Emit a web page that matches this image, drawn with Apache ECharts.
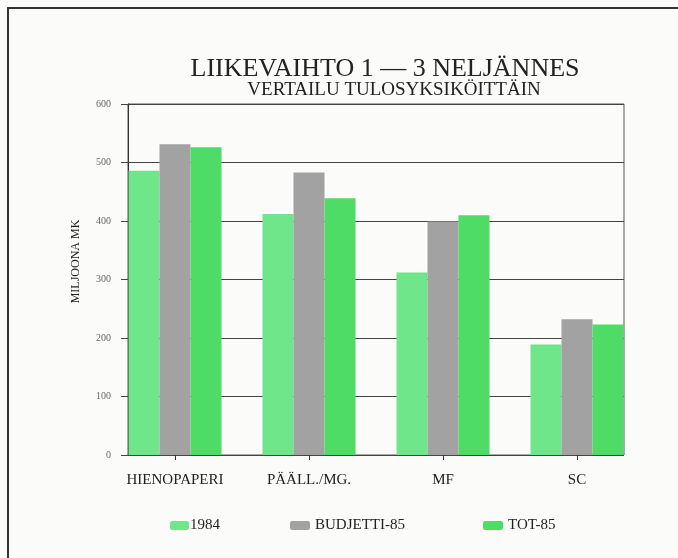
<!DOCTYPE html>
<html><head><meta charset="utf-8">
<script src="https://cdn.jsdelivr.net/npm/echarts@6/dist/echarts.min.js"></script>
<style>html,body{margin:0;padding:0;background:#fbfbf9}#c{width:678px;height:558px}</style>
</head><body><div id="c"></div>
<script>
const categories = ['HIENOPAPERI', 'PÄÄLL./MG.', 'MF', 'SC'];
const s1984 = [486, 412, 312, 189];
const sBudjetti = [531, 483, 399, 232];
const sTot = [526, 439, 410, 223];
const yTicks = [0, 100, 200, 300, 400, 500, 600];

const serif = '"Liberation Serif", "DejaVu Serif", serif';
const chart = echarts.init(document.getElementById('c'));
chart.setOption({
  backgroundColor: '#fbfbf9',
  animation: false,
  graphic: [{type: 'rect', shape: {x: 8, y: 8, width: 700, height: 600}, style: {fill: 'none', stroke: '#333', lineWidth: 2}}],
  title: [
    {text: 'LIIKEVAIHTO 1 — 3 NELJÄNNES', left: 380, top: 51, textAlign: 'center',
     textStyle: {fontFamily: serif, fontSize: 26, fontWeight: 'normal', color: '#222'}},
    {text: 'VERTAILU TULOSYKSIKÖITTÄIN', left: 389, top: 76, textAlign: 'center',
     textStyle: {fontFamily: serif, fontSize: 19, fontWeight: 'normal', color: '#222'}}
  ],
  legend: [
    {data: ['1984'], left: 165, top: 513, itemWidth: 19, itemHeight: 9, itemGap: 0, textStyle: {fontFamily: serif, fontSize: 15, color: '#222', padding: [0,0,0,-4]}},
    {data: ['BUDJETTI-85'], left: 285, top: 513, itemWidth: 20, itemHeight: 9, textStyle: {fontFamily: serif, fontSize: 15, color: '#222'}},
    {data: ['TOT-85'], left: 478, top: 513, itemWidth: 20, itemHeight: 9, textStyle: {fontFamily: serif, fontSize: 15, color: '#222'}}
  ],
  grid: [
    {left: 128, top: 104, width: 496, height: 351, show: true, borderColor: '#555', borderWidth: 1, backgroundColor: 'transparent'},
    {left: 108, top: 104, width: 536, height: 351}
  ],
  xAxis: [
    {gridIndex: 0, type: 'category', data: categories, show: false},
    {gridIndex: 1, type: 'category', data: categories,
     axisLine: {show: false},
     axisTick: {show: true, alignWithLabel: true, length: 5, lineStyle: {color: '#333'}},
     axisLabel: {fontFamily: serif, fontSize: 15, color: '#222', margin: 18}}
  ],
  yAxis: [
    {gridIndex: 0, type: 'value', min: 0, max: 600, interval: 100,
     name: 'MILJOONA MK', nameLocation: 'middle', nameGap: 46, nameRotate: 90,
     nameTextStyle: {fontFamily: serif, fontSize: 12, color: '#222', padding: [0, 0, 0, 36]},
     axisLine: {show: true, lineStyle: {color: '#333'}},
     axisTick: {show: true, length: 7, lineStyle: {color: '#444'}},
     axisLabel: {fontFamily: serif, fontSize: 10, color: '#666', margin: 17,
       formatter: v => yTicks.includes(v) ? String(v) : ''},
     splitLine: {show: true, lineStyle: {color: '#444', width: 1}}},
    {gridIndex: 1, type: 'value', min: 0, max: 600, interval: 100, show: false, splitLine: {show: false}}
  ],
  series: [
    {name: '1984', type: 'bar', xAxisIndex: 1, yAxisIndex: 1, data: s1984, barWidth: 31, barGap: '0%', itemStyle: {color: '#70e68b'}, z: 1},
    {name: 'BUDJETTI-85', type: 'bar', xAxisIndex: 1, yAxisIndex: 1, data: sBudjetti, barWidth: 31, barGap: '0%', itemStyle: {color: '#a2a2a2'}, z: 1},
    {name: 'TOT-85', type: 'bar', xAxisIndex: 1, yAxisIndex: 1, data: sTot, barWidth: 31, barGap: '0%', itemStyle: {color: '#4edb66'}, z: 1}
  ]
});
</script></body></html>
